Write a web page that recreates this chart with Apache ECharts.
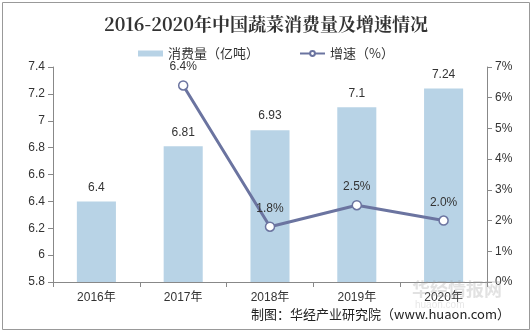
<!DOCTYPE html>
<html><head><meta charset="utf-8">
<script src="https://cdn.jsdelivr.net/npm/echarts@6/dist/echarts.min.js"></script>
<style>html,body{margin:0;padding:0;background:#fff}#c{width:532px;height:334px}</style>
</head><body><div id="c"></div>
<script>
const categories = ['2016年','2017年','2018年','2019年','2020年'];
const consumption = [6.4, 6.81, 6.93, 7.1, 7.24];
const growth = [null, 6.4, 1.8, 2.5, 2.0];
const leftTicks = {min: 5.8, max: 7.4, interval: 0.2};
const rightTicks = {min: 0, max: 7, interval: 1};

const chart = echarts.init(document.getElementById('c'));
const font = '"Liberation Sans", Arial, "Noto Sans CJK SC", sans-serif';
chart.setOption({
  animation: false,
  textStyle: {fontFamily: font},
  title: {
    text: '2016-2020年中国蔬菜消费量及增速情况',
    left: 'center', top: 10,
    textStyle: {fontSize: 18, fontWeight: 'bold', color: '#333', fontFamily: '"Noto Serif CJK SC","Noto Sans CJK SC", serif'}
  },
  legend: {
    top: 42, left: 'center', itemGap: 40,
    textStyle: {fontSize: 13, color: '#333', fontFamily: '"Noto Sans CJK SC", sans-serif'},
    data: [
      {name: '消费量（亿吨）', icon: 'rect', itemStyle: {color: '#b8d3e6'}},
      {name: '增速（%）'}
    ],
    itemWidth: 25, itemHeight: 6
  },
  graphic: [
    {type: 'rect', shape: {x: 2.5, y: 2.5, width: 527, height: 327}, style: {fill: 'none', stroke: '#999', lineWidth: 1}, silent: true, z: -1},
    {type: 'text', right: 22, top: 308, style: {text: '制图：华经产业研究院（www.huaon.com）', fontSize: 13, fill: '#222', fontFamily: '"Noto Sans CJK SC", sans-serif'}},
    {type: 'text', left: 412, top: 280, style: {text: '华经情报网', fontSize: 18, fontWeight: 'bold', fill: 'rgba(160,160,160,0.3)', fontFamily: '"Noto Sans CJK SC", sans-serif'}, z: 10},
    {type: 'text', left: 415, top: 300, style: {text: 'huaon.com', fontSize: 10, fill: 'rgba(160,160,160,0.25)'}, z: 10}
  ],
  grid: {left: 53, right: 45, top: 67, bottom: 52},
  xAxis: {
    type: 'category', data: categories,
    axisLine: {lineStyle: {color: '#888'}},
    axisTick: {show: true, lineStyle: {color: '#888'}},
    axisLabel: {color: '#333', fontSize: 12, margin: 10}
  },
  yAxis: [
    {
      type: 'value', min: leftTicks.min, max: leftTicks.max, interval: leftTicks.interval,
      splitLine: {show: false},
      axisLine: {show: true, lineStyle: {color: '#888'}},
      axisTick: {show: true, lineStyle: {color: '#888'}},
      axisLabel: {color: '#333', fontSize: 12, formatter: v => String(parseFloat(v.toFixed(1)))}
    },
    {
      type: 'value', min: rightTicks.min, max: rightTicks.max, interval: rightTicks.interval,
      splitLine: {show: false},
      axisLine: {show: true, lineStyle: {color: '#888'}},
      axisTick: {show: true, lineStyle: {color: '#888'}},
      axisLabel: {color: '#333', fontSize: 12, formatter: '{value}%'}
    }
  ],
  series: [
    {
      name: '消费量（亿吨）', type: 'bar', data: consumption, barWidth: '45%',
      itemStyle: {color: '#b8d3e6'},
      label: {show: true, position: 'top', color: '#333', fontSize: 12, distance: 8}
    },
    {
      name: '增速（%）', type: 'line', yAxisIndex: 1, data: growth,
      symbol: 'circle', symbolSize: 9, showSymbol: true,
      lineStyle: {color: '#6b74a0', width: 3},
      itemStyle: {color: '#fff', borderColor: '#6b74a0', borderWidth: 1.5},
      label: {show: true, position: 'top', color: '#333', fontSize: 12, distance: 7, formatter: p => p.value.toFixed(1) + '%'}
    }
  ]
});
</script></body></html>
